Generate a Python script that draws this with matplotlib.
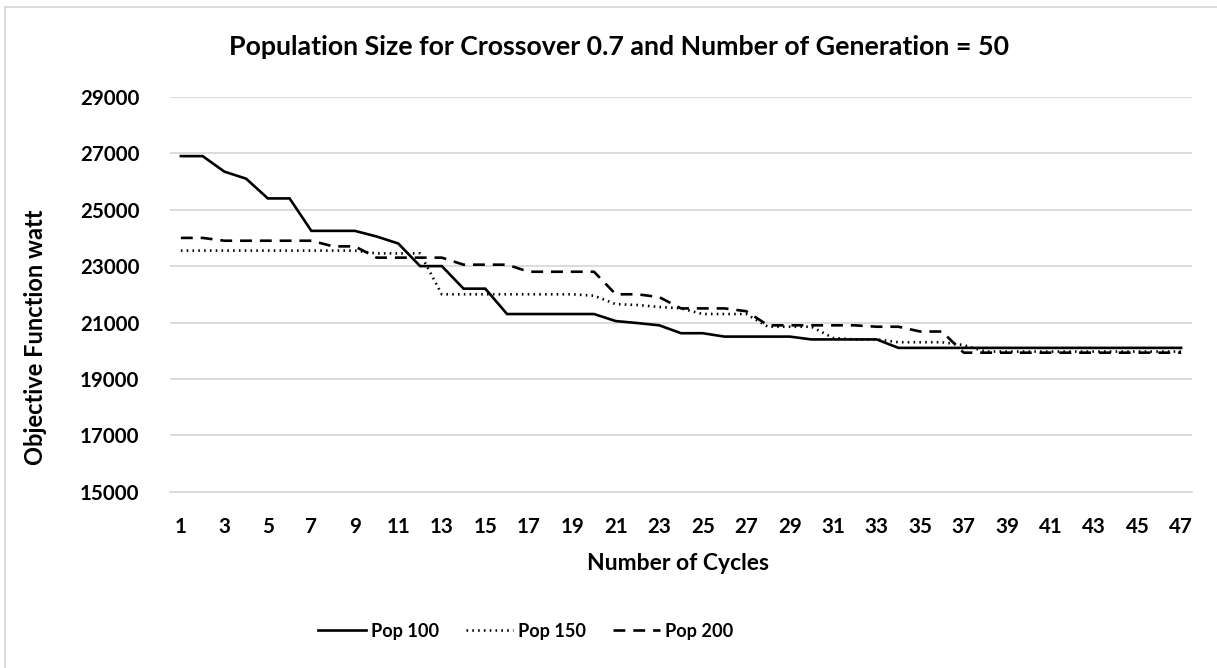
import matplotlib
matplotlib.use("Agg")
import matplotlib.pyplot as plt
from matplotlib.lines import Line2D

plt.rcParams['font.family'] = ['Lato', 'DejaVu Sans']
plt.rcParams['font.weight'] = 'bold'

cycles = list(range(1, 48))

pop100 = [26900, 26900, 26350, 26100, 25400, 25400, 24250, 24250, 24250, 24050,
          23800, 23000, 23000, 22200, 22200, 21300, 21300, 21300, 21300, 21300,
          21050, 20980, 20900, 20620, 20620, 20500, 20500, 20500, 20500, 20400,
          20400, 20400, 20400, 20100, 20100, 20100, 20100, 20100, 20100, 20100,
          20100, 20100, 20100, 20100, 20100, 20100, 20100]

pop150 = [23550, 23550, 23550, 23550, 23550, 23550, 23550, 23550, 23550, 23450,
          23450, 23450, 22000, 22000, 22000, 22000, 22000, 22000, 22000, 21950,
          21650, 21620, 21550, 21500, 21300, 21300, 21300, 20850, 20850, 20850,
          20450, 20400, 20400, 20300, 20300, 20300, 20200, 19970, 19970, 19970,
          19970, 19970, 19970, 19970, 19970, 19970, 19970]

pop200 = [24000, 24000, 23900, 23900, 23900, 23900, 23900, 23700, 23700, 23300,
          23300, 23300, 23300, 23050, 23050, 23050, 22800, 22800, 22800, 22800,
          22000, 22000, 21900, 21500, 21500, 21500, 21400, 20900, 20900, 20900,
          20900, 20900, 20850, 20850, 20680, 20680, 19930, 19930, 19930, 19930,
          19930, 19930, 19930, 19930, 19930, 19930, 19930]

yticks = [15000, 17000, 19000, 21000, 23000, 25000, 27000, 29000]

W, H = 1217, 668
fig = plt.figure(figsize=(W / 100, H / 100), dpi=100)
ax = fig.add_axes([170 / W, 1 - 491.7 / H, (1192 - 170) / W, (491.7 - 96.9) / H])

ax.plot(cycles, pop100, color='black', lw=1.9, ls='-', label='Pop 100',
        solid_joinstyle='miter')
ax.plot(cycles, pop150, color='black', lw=1.9, ls=(0, (0.6, 1.6)),
        dash_capstyle='butt', label='Pop 150')
ax.plot(cycles, pop200, color='black', lw=1.9, ls=(0, (4.5, 3.0)),
        dash_capstyle='butt', label='Pop 200')

ax.set_xlim(0.5, 47.5)
ax.set_ylim(15000, 29000)
ax.set_yticks(yticks)
ax.set_yticklabels([str(v) for v in yticks])
ax.set_xticks(cycles[::2])
ax.set_xticklabels([str(c) for c in cycles[::2]])
ax.tick_params(axis='both', length=0, labelsize=14.8, colors='black')
ax.tick_params(axis='y', pad=22)
ax.tick_params(axis='x', pad=18)
ax.grid(axis='y', color='#d9d9d9', lw=1.3)
ax.set_axisbelow(True)
for s in ['top', 'right', 'left']:
    ax.spines[s].set_visible(False)
ax.spines['bottom'].set_color('#d9d9d9')
ax.spines['bottom'].set_linewidth(1.3)

fig.text(619 / W, 1 - 47 / H, 'Population Size for Crossover 0.7 and Number of Generation = 50',
         ha='center', va='center', fontsize=19.3, fontweight='bold')
fig.text(36 / W, 1 - 337 / H, 'Objective Function watt', rotation=90,
         ha='center', va='center', fontsize=17, fontweight='bold')
fig.text(678 / W, 1 - 563 / H, 'Number of Cycles',
         ha='center', va='center', fontsize=16.5, fontweight='bold')

leg = fig.legend(loc='center', bbox_to_anchor=(526 / W, 1 - 631 / H), ncol=3,
                 frameon=False, fontsize=13.1, handlelength=2.6,
                 handletextpad=0.3, columnspacing=1.45)

# chart border
fig.add_artist(Line2D([5 / W, 5 / W], [0, 1 - 7 / H], color='#d9d9d9', lw=1.3))
fig.add_artist(Line2D([5 / W, 1], [1 - 7 / H, 1 - 7 / H], color='#d9d9d9', lw=1.3))

fig.savefig('out.png', dpi=100)
